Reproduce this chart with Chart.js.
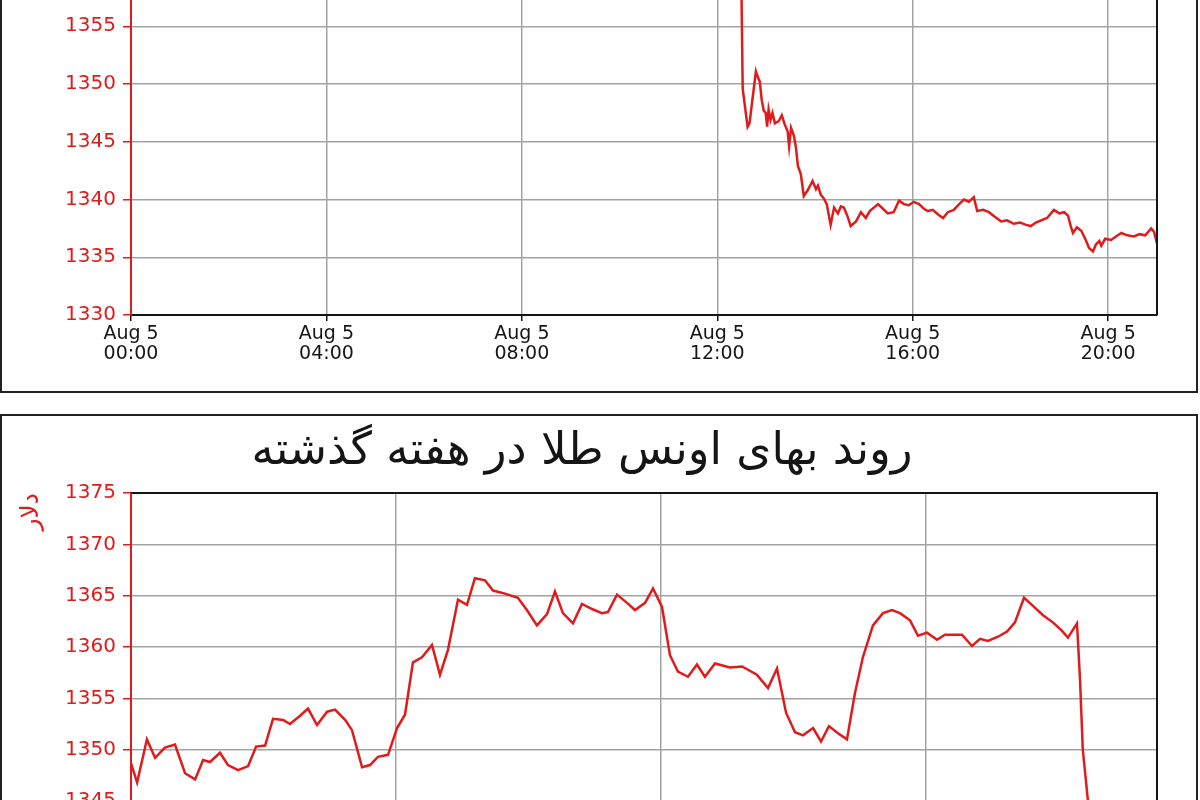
<!DOCTYPE html>
<html><head><meta charset="utf-8">
<script src="https://cdn.jsdelivr.net/npm/chart.js@4.4.1/dist/chart.umd.min.js"></script>
<style>
html,body{margin:0;padding:0;background:#fff;width:1200px;height:800px;overflow:hidden;position:relative}
.panel{position:absolute;left:0;width:1198px;border:2px solid #222;box-sizing:border-box;background:#fff}
#p1{top:-20px;height:413px}
#p2{top:414px;height:600px}
canvas{position:absolute;left:0;z-index:2}
#c1{top:-230px;width:1196px;height:620px}
#c2{top:417px;width:1196px;height:613px}
</style></head><body>
<div class="panel" id="p1"></div>
<div class="panel" id="p2"></div>
<canvas id="c1" width="1196" height="620"></canvas>
<canvas id="c2" width="1196" height="613"></canvas>
<script>
// ---- data: intraday (Aug 5), hours since 00:00 ----
const dayHours = [12.48,12.52,12.62,12.66,12.79,12.83,12.87,12.91,12.95,12.99,13.02,13.05,13.09,13.13,13.18,13.26,13.32,13.38,13.44,13.47,13.51,13.57,13.61,13.65,13.71,13.77,13.85,13.95,14.02,14.06,14.12,14.18,14.24,14.32,14.39,14.47,14.53,14.59,14.67,14.73,14.84,14.94,15.04,15.12,15.29,15.39,15.49,15.61,15.72,15.82,15.92,16.02,16.13,16.23,16.31,16.41,16.52,16.62,16.72,16.84,16.95,17.05,17.15,17.25,17.32,17.44,17.56,17.68,17.81,17.93,18.07,18.20,18.32,18.42,18.52,18.63,18.75,18.89,19.00,19.10,19.18,19.24,19.28,19.36,19.45,19.53,19.61,19.69,19.75,19.82,19.86,19.94,20.06,20.16,20.27,20.39,20.53,20.64,20.76,20.88,20.94,21.00];
const dayPrices = [1363.0,1349.6,1346.3,1346.6,1351.1,1350.6,1350.2,1348.6,1347.7,1347.5,1346.3,1347.8,1346.9,1347.5,1346.6,1346.8,1347.3,1346.5,1345.9,1344.6,1346.2,1345.5,1344.5,1342.9,1342.2,1340.3,1340.8,1341.6,1340.9,1341.2,1340.4,1340.1,1339.6,1337.8,1339.3,1338.8,1339.4,1339.3,1338.5,1337.7,1338.1,1338.9,1338.4,1339.0,1339.6,1339.2,1338.8,1338.9,1339.9,1339.6,1339.5,1339.8,1339.6,1339.2,1339.0,1339.1,1338.7,1338.4,1338.9,1339.1,1339.6,1340.0,1339.8,1340.2,1339.0,1339.1,1338.9,1338.5,1338.1,1338.2,1337.9,1338.0,1337.8,1337.7,1338.0,1338.2,1338.4,1339.1,1338.8,1338.9,1338.6,1337.6,1337.1,1337.6,1337.3,1336.6,1335.8,1335.5,1336.1,1336.4,1336.0,1336.6,1336.5,1336.8,1337.1,1336.9,1336.8,1337.0,1336.9,1337.5,1337.2,1336.2];
const dayTickDate = 'Aug 5';
const dayTickTimes = ['00:00','04:00','08:00','12:00','16:00','20:00'];

// ---- data: past week, days since start ----
const weekDays = [0.000,0.023,0.060,0.091,0.128,0.166,0.204,0.242,0.272,0.298,0.336,0.366,0.404,0.442,0.472,0.506,0.536,0.574,0.600,0.638,0.668,0.702,0.740,0.770,0.808,0.834,0.872,0.902,0.932,0.970,1.004,1.034,1.064,1.098,1.136,1.166,1.196,1.234,1.268,1.298,1.336,1.366,1.411,1.460,1.494,1.532,1.570,1.600,1.630,1.668,1.702,1.740,1.777,1.800,1.834,1.872,1.902,1.940,1.970,2.004,2.034,2.064,2.102,2.136,2.166,2.204,2.260,2.306,2.362,2.404,2.438,2.472,2.506,2.536,2.574,2.604,2.634,2.668,2.702,2.732,2.762,2.800,2.838,2.872,2.902,2.940,2.970,3.004,3.042,3.072,3.136,3.174,3.204,3.234,3.272,3.306,3.336,3.370,3.404,3.442,3.479,3.513,3.536,3.570,3.581,3.592,3.611,3.630,3.660,3.720,3.790,3.860];
const weekPrices = [1348.7,1346.8,1351.0,1349.2,1350.2,1350.5,1347.7,1347.1,1349.0,1348.8,1349.7,1348.5,1348.0,1348.4,1350.3,1350.4,1353.0,1352.9,1352.5,1353.3,1354.0,1352.4,1353.7,1353.9,1352.9,1351.9,1348.3,1348.5,1349.3,1349.5,1352.1,1353.4,1358.5,1359.0,1360.2,1357.3,1359.7,1364.6,1364.1,1366.7,1366.5,1365.5,1365.2,1364.8,1363.6,1362.1,1363.2,1365.4,1363.3,1362.3,1364.2,1363.7,1363.3,1363.4,1365.1,1364.3,1363.6,1364.3,1365.7,1363.9,1359.2,1357.6,1357.1,1358.3,1357.1,1358.4,1358.0,1358.1,1357.3,1356.0,1357.9,1353.6,1351.7,1351.4,1352.1,1350.8,1352.3,1351.6,1351.0,1355.5,1359.0,1362.1,1363.3,1363.6,1363.3,1362.6,1361.1,1361.4,1360.7,1361.2,1361.2,1360.1,1360.8,1360.6,1361.0,1361.5,1362.4,1364.8,1364.0,1363.1,1362.4,1361.6,1360.9,1362.3,1357.1,1350.0,1345.1,1339.0,1336.5,1337.5,1337.0,1336.3];
const weekTickDates = ['Aug 2','Aug 3','Aug 4','Aug 5'];
const weekTitle = 'روند بهای اونس طلا در هفته گذشته';
const yAxisTitle = 'دلار';

// ---- styling ----
Chart.defaults.font.family = "'DejaVu Sans', sans-serif";
const RED = '#e01b1b';
const GRID = '#a3a3a3';
const BLACK = '#151515';

const frameBorder = {
  id: 'frameBorder',
  afterDraw(chart) {
    const {ctx, chartArea: a} = chart;
    ctx.save();
    ctx.strokeStyle = BLACK; ctx.lineWidth = 2;
    ctx.beginPath();
    ctx.moveTo(a.left, a.top); ctx.lineTo(a.right, a.top); ctx.lineTo(a.right, a.bottom);
    ctx.stroke();
    ctx.restore();
  }
};

function makeChart(canvas, xs, ys, cfg) {
  return new Chart(canvas, {
    type: 'line',
    data: { datasets: [{ data: xs.map((x, i) => ({x, y: ys[i]})), borderColor: RED, borderWidth: 2.5, pointRadius: 0, tension: 0, fill: false }] },
    plugins: [frameBorder],
    options: {
      responsive: false, animation: false, devicePixelRatio: 1,
      layout: { padding: cfg.padding },
      plugins: {
        legend: { display: false }, tooltip: { enabled: false },
        title: cfg.title
      },
      scales: {
        x: {
          type: 'linear', min: 0, max: cfg.xMax,
          afterFit: s => { s.height = 75; },
          border: { color: BLACK, width: 2 },
          grid: { color: c => (c.tick && c.tick.value === 0) ? 'rgba(0,0,0,0)' : GRID, lineWidth: 1.5, tickColor: BLACK, tickLength: 6, drawTicks: true },
          ticks: { stepSize: cfg.xStep, includeBounds: false, autoSkip: false, maxRotation: 0, color: BLACK, padding: 3,
                   font: { size: 19, lineHeight: 1.05 }, callback: cfg.xLabel }
        },
        y: {
          min: cfg.yMin, max: cfg.yMax,
          afterFit: s => { s.width = 124; },
          border: { color: RED, width: 2 },
          grid: { color: GRID, lineWidth: 1.5, tickColor: RED, tickLength: 8 },
          ticks: { stepSize: 5, color: RED, padding: 7, font: { size: 20 }, callback: v => String(v) },
          title: { display: true, text: yAxisTitle, align: 'end', color: RED, font: { size: 25 }, padding: { top: 9, bottom: 0 } }
        }
      }
    }
  });
}

makeChart(document.getElementById('c1'), dayHours, dayPrices, {
  padding: { left: 7, right: 39, top: 83, bottom: 0 },
  title: { display: false },
  xMax: 21, xStep: 4, yMin: 1330, yMax: 1370,
  xLabel: v => [dayTickDate, dayTickTimes[Math.round(v / 4)]]
});

makeChart(document.getElementById('c2'), weekDays, weekPrices, {
  padding: { left: 7, right: 39, top: 0, bottom: 0 },
  title: { display: true, text: weekTitle, color: BLACK, font: { size: 45, weight: 'normal', lineHeight: 1.2 }, padding: { top: 8, bottom: 14 } },
  xMax: 3.872, xStep: 1, yMin: 1330, yMax: 1375,
  xLabel: v => weekTickDates[Math.round(v)]
});
</script>
</body></html>
